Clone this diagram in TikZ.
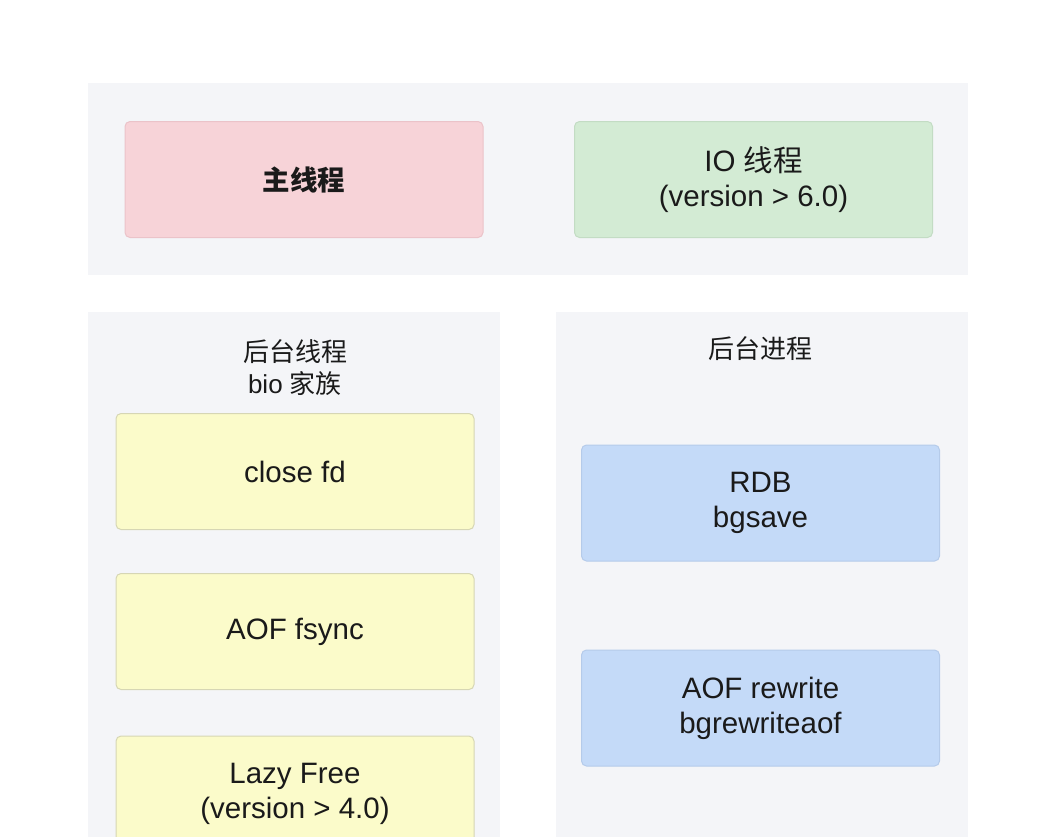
\documentclass[tikz,border=0pt]{standalone}
\usepackage{fontspec}
\usepackage{tikz}
\setmainfont{Liberation Sans}
\newfontfamily\zh{Noto Sans CJK SC}

\definecolor{panelgray}{HTML}{F4F5F8}
\definecolor{pinkfill}{HTML}{F7D3D8}
\definecolor{pinkline}{HTML}{EBC3C9}
\definecolor{greenfill}{HTML}{D3EBD4}
\definecolor{greenline}{HTML}{C3DCC4}
\definecolor{yellowfill}{HTML}{FBFBCA}
\definecolor{yellowline}{HTML}{D6D6B4}
\definecolor{bluefill}{HTML}{C4DAF8}
\definecolor{blueline}{HTML}{B5CBEA}
\definecolor{textdark}{HTML}{1A1A1A}

\begin{document}
\begin{tikzpicture}[x = 1pt, y = -1pt,
    task/.style = {rectangle, rounded corners = 5pt, line width = 1pt,
        minimum width = 358pt, minimum height = 116pt, align = center,
        text = textdark, font = \fontsize{29.5}{35}\selectfont},
    title/.style = {align = center, text = textdark,
        font = \fontsize{26}{32}\selectfont}]
            \useasboundingbox (0,0) rectangle (1064,836);
            \clip (0,0) rectangle (1064,836);
            \fill [white] (0,0) rectangle (1064,836);

            \fill [panelgray] (88,83) rectangle (968,275);
            \fill [panelgray] (88,312) rectangle (500,860);
            \fill [panelgray] (556,312) rectangle (968,860);

            \node [task, fill = pinkfill, draw = pinkline] (main) at (304,179.5)
            {\fontsize{27.5}{33}\zh\bfseries 主线程};
            \node [task, fill = greenfill, draw = greenline] (io) at (753.5,179.5)
            {IO {\zh 线程}\\(version > 6.0)};

            \node [title] (bio) at (295,368) {{\zh 后台线程}\\bio {\zh 家族}};
            \node [task, fill = yellowfill, draw = yellowline] (closefd) at (295,471.5)
            {close fd};
            \node [task, fill = yellowfill, draw = yellowline] (fsync) at (295,631.5)
            {AOF fsync};
            \node [task, fill = yellowfill, draw = yellowline] (lazyfree) at (295,794)
            {Lazy Free\\(version > 4.0)};

            \node [title] (proc) at (760,349) {\zh 后台进程};
            \node [task, fill = bluefill, draw = blueline] (rdb) at (760.5,503)
            {RDB\\bgsave};
            \node [task, fill = bluefill, draw = blueline] (aofrw) at (760.5,708)
            {AOF rewrite\\bgrewriteaof};
    \end{tikzpicture}
\end{document}
